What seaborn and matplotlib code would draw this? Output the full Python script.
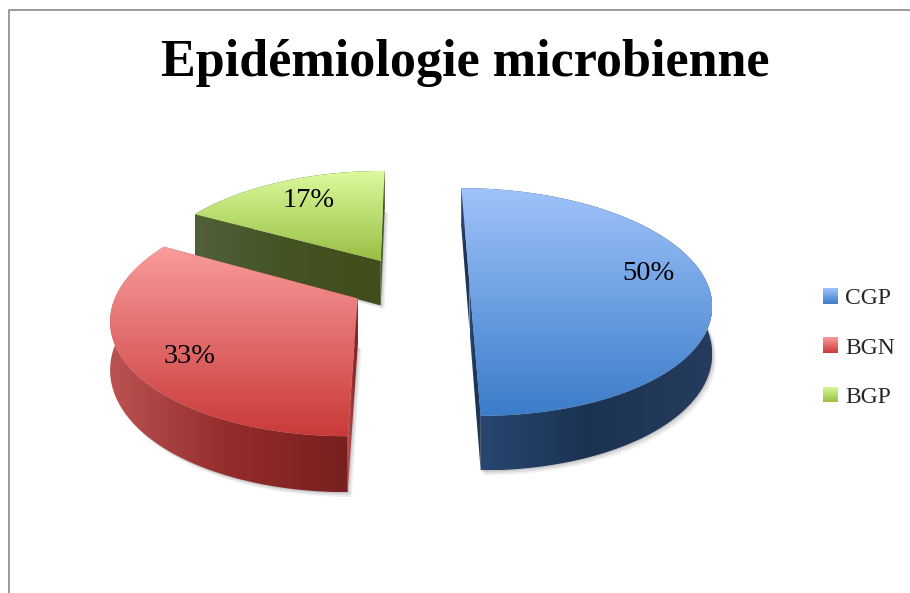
import numpy as np
import matplotlib
matplotlib.use("Agg")
import matplotlib.pyplot as plt
import seaborn as sns
from matplotlib.patches import Patch, Polygon

labels = ["CGP", "BGN", "BGP"]
values = [50, 33, 17]
explode = [0.25, 0.25, 0.25]

# couleurs : haut et bas du dessus, puis gauche / milieu / droite du flanc
top_colors = [("#9fc3fb", "#3b7cc9"), ("#f99c9c", "#c93a38"), ("#dcfb9e", "#98bf43")]
wall_colors = [("#2a4a75", "#1b3353", "#263c5e"),
               ("#bb5352", "#942c2b", "#762120"),
               ("#51603a", "#445322", "#3f4e1a")]
pct_shift = [(0, -10), (2, 11), (5, 1)]

sns.set_theme(style="white")
plt.rcParams["font.family"] = ["Liberation Serif", "DejaVu Serif"]

fig = plt.figure(figsize=(9.10, 5.93), dpi=100)
ax = fig.add_axes([0, 0, 1, 1])

wedges, _, pct = ax.pie(values, explode=explode, startangle=90, counterclock=False,
                        autopct="%d%%", pctdistance=0.75)
ax.set_aspect("auto")
ax.set_xlim(0, 910)
ax.set_ylim(593, 0)
ax.axis("off")


# passage du disque plat a la vue en perspective (pixels)
def project(x, y, h=0.0):
    w = 1 + 0.158 * y
    return 410 + 238 * x / w, 284 - (111 * y - h) / w


def gradient(pts, c1, c2, vertical=True, c3=None, zorder=2):
    pts = np.asarray(pts)
    x0, y0 = pts.min(axis=0)
    x1, y1 = pts.max(axis=0)
    cols = [c1, c3, c2] if c3 else [c1, c2]
    cmap = sns.blend_palette(cols, as_cmap=True)
    ramp = np.linspace(0, 1, 256)
    ramp = ramp[:, None] if vertical else ramp[None, :]
    im = ax.imshow(ramp, cmap=cmap, extent=(x0, x1, y1, y0), aspect="auto",
                   origin="upper", zorder=zorder, interpolation="bilinear")
    im.set_clip_path(Polygon(pts, closed=True, transform=ax.transData))


def wall(a, b, cols, zorder):
    # bande verticale entre deux suites de points du bord
    ax_pts = [project(*p) for p in zip(a, b)]
    low_pts = [project(x, y, 46) for x, y in zip(a, b)]
    gradient(ax_pts + low_pts[::-1], cols[0], cols[2], vertical=False, c3=cols[1], zorder=zorder)


# dessin de l'arriere vers l'avant : BGP, BGN, CGP
for i in [2, 1, 0]:
    wd = wedges[i]
    wd.set_visible(False)
    base = 3 + (2 - i) * 5
    cx, cy = wd.center
    th = np.radians(np.linspace(wd.theta1, wd.theta2, 120))
    ax_x = cx + wd.r * np.cos(th)
    ax_y = cy + wd.r * np.sin(th)

    # ombre douce sous le flanc
    for k, a in zip([4, 2.5, 1], [0.06, 0.08, 0.1]):
        sh = [project(x, y, 46 + k) for x, y in zip(ax_x, ax_y)] + [project(cx, cy, 46 + k)]
        sh = [(px + k, py) for px, py in sh]
        ax.add_patch(Polygon(sh, closed=True, fc="black", ec="none", alpha=a, zorder=base))

    # flancs coupes puis flanc exterieur
    wall([cx, ax_x[0]], [cy, ax_y[0]], wall_colors[i], base + 1)
    wall([cx, ax_x[-1]], [cy, ax_y[-1]], wall_colors[i], base + 1)
    wall(ax_x, ax_y, wall_colors[i], base + 2)

    # dessus
    outline = [project(cx, cy)] + [project(x, y) for x, y in zip(ax_x, ax_y)]
    gradient(outline, top_colors[i][0], top_colors[i][1], zorder=base + 3)

    tx, ty = project(*pct[i].get_position())
    pct[i].set_position((tx + pct_shift[i][0], ty + pct_shift[i][1]))
    pct[i].set_fontsize(20.5)
    pct[i].set_color("black")
    pct[i].set_zorder(30)
    pct[i].set_ha("center")
    pct[i].set_va("center")

ax.text(465, 63, "Epidémiologie microbienne", fontsize=37.5, fontweight="bold",
        ha="center", va="center", color="black")

# cadre du graphique
ax.plot([9, 9, 910], [593, 10, 10], color="#8a8a8a", lw=1.2, zorder=1)

handles = [Patch(fc=c[1]) for c in top_colors]
leg = ax.legend(handles, labels, loc="center left", bbox_to_anchor=(823 / 910, 1 - 348 / 593),
                frameon=False, fontsize=17, handlelength=0.63, handleheight=0.63,
                handletextpad=0.3, labelspacing=1.2, borderpad=0, borderaxespad=0)
fig.canvas.draw()
inv = ax.transData.inverted()
for p, c in zip(leg.get_patches(), top_colors):
    bb = p.get_window_extent()
    (xa, ya), (xb, yb) = inv.transform([(bb.x0, bb.y0), (bb.x1, bb.y1)])
    gradient([(xa, ya), (xb, ya), (xb, yb), (xa, yb)], c[0], c[1], zorder=40)
ax.set_xlim(0, 910)
ax.set_ylim(593, 0)

plt.savefig("out.png", dpi=100)
